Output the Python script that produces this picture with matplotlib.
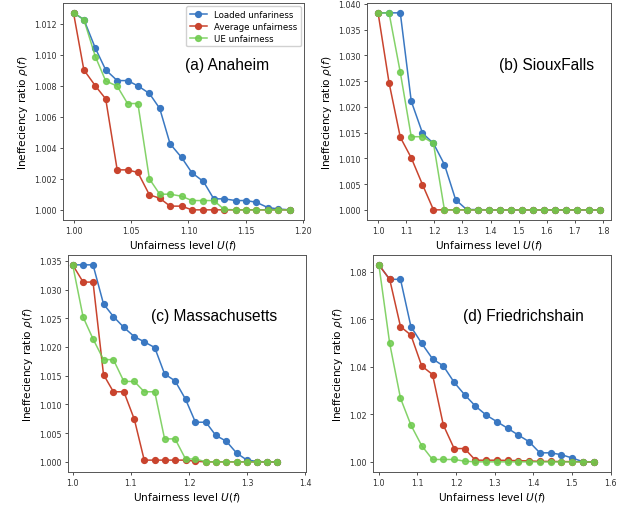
import matplotlib
matplotlib.use("Agg")
import matplotlib.pyplot as plt
from matplotlib.ticker import MultipleLocator, FormatStrFormatter

# ---------------- data ----------------
xa = [1.000, 1.009, 1.019, 1.028, 1.038, 1.047, 1.056, 1.066, 1.075, 1.084, 1.094,
      1.103, 1.113, 1.122, 1.131, 1.141, 1.150, 1.159, 1.169, 1.178, 1.188]
a_loaded = [1.01271, 1.01228, 1.01043, 1.00903, 1.00834, 1.00834, 1.00800, 1.00751,
            1.00654, 1.00426, 1.00338, 1.00239, 1.00183, 1.00071, 1.00071, 1.00060,
            1.00060, 1.00049, 1.00015, 1.00006, 1.00000]
a_average = [1.01271, 1.00903, 1.00800, 1.00716, 1.00258, 1.00258, 1.00241, 1.00097,
             1.00075, 1.00024, 1.00024, 1.0, 1.0, 1.0, 1.0, 1.0, 1.0, 1.0, 1.0, 1.0, 1.0]
a_ue = [1.01271, 1.01228, 1.00989, 1.00832, 1.00798, 1.00686, 1.00686, 1.00200,
        1.00101, 1.00101, 1.00088, 1.00060, 1.00060, 1.00060, 1.00003, 1.0, 1.0,
        1.0, 1.0, 1.0, 1.0]

xb = [1.000, 1.039, 1.079, 1.118, 1.158, 1.197, 1.236, 1.276, 1.315, 1.355, 1.394,
      1.433, 1.473, 1.512, 1.552, 1.591, 1.630, 1.670, 1.709, 1.749, 1.788]
b_loaded = [1.03825, 1.03825, 1.03825, 1.0211, 1.0149, 1.0129, 1.0088, 1.00195,
            1.00006, 1.00006, 1.0, 1.0, 1.0, 1.0, 1.0, 1.0, 1.0, 1.0, 1.0, 1.0, 1.0]
b_average = [1.03825, 1.0247, 1.0141, 1.0101, 1.0049, 1.0, 1.0, 1.0, 1.0, 1.0, 1.0,
             1.0, 1.0, 1.0, 1.0, 1.0, 1.0, 1.0, 1.0, 1.0, 1.0]
b_ue = [1.03825, 1.03825, 1.0267, 1.0142, 1.0142, 1.0129, 1.0, 1.0, 1.0, 1.0, 1.0,
        1.0, 1.0, 1.0, 1.0, 1.0, 1.0, 1.0, 1.0, 1.0, 1.0]

xc = [1.000, 1.018, 1.035, 1.053, 1.070, 1.088, 1.106, 1.123, 1.141, 1.158, 1.176,
      1.194, 1.211, 1.229, 1.246, 1.264, 1.282, 1.299, 1.317, 1.334, 1.352]
c_loaded = [1.0343, 1.0343, 1.0343, 1.0275, 1.0253, 1.0234, 1.0218, 1.0209, 1.0199,
            1.0153, 1.0141, 1.0109, 1.0069, 1.0069, 1.0046, 1.0036, 1.0015, 1.00035,
            1.00006, 1.0, 1.0]
c_average = [1.0343, 1.0313, 1.0313, 1.0152, 1.0122, 1.0122, 1.0074, 1.0003, 1.0003,
             1.0003, 1.0003, 1.0003, 1.0001, 1.0, 1.0, 1.0, 1.0, 1.0, 1.0, 1.0, 1.0]
c_ue = [1.0343, 1.0252, 1.0214, 1.0178, 1.0178, 1.0140, 1.0140, 1.0122, 1.0122,
        1.0040, 1.0040, 1.0005, 1.0005, 1.0, 1.0, 1.0, 1.0, 1.0, 1.0, 1.0, 1.0]

xd = [1.000, 1.028, 1.056, 1.083, 1.111, 1.139, 1.167, 1.195, 1.222, 1.250, 1.278,
      1.306, 1.334, 1.361, 1.389, 1.417, 1.445, 1.473, 1.501, 1.528, 1.556]
d_loaded = [1.0830, 1.0769, 1.0769, 1.0570, 1.0499, 1.0434, 1.0404, 1.0335, 1.0283,
            1.0235, 1.0197, 1.0169, 1.0141, 1.0113, 1.0085, 1.0038, 1.0038, 1.0030,
            1.0016, 1.0001, 1.0]
d_average = [1.0830, 1.0769, 1.0570, 1.0534, 1.0404, 1.0368, 1.0155, 1.0056, 1.0056,
             1.0007, 1.0007, 1.0007, 1.0006, 1.0005, 1.0004, 1.0002, 1.0002, 1.0001,
             1.0001, 1.0, 1.0]
d_ue = [1.0830, 1.0499, 1.0268, 1.0155, 1.0068, 1.0010, 1.0010, 1.0010, 1.0003, 1.0,
        1.0, 1.0, 1.0, 1.0, 1.0, 1.0, 1.0, 1.0, 1.0, 1.0, 1.0]

series_labels = ["Loaded unfariness", "Average unfairness", "UE unfairness"]
panel_titles = ["(a) Anaheim", "(b) SiouxFalls", "(c) Massachusetts", "(d) Friedrichshain"]

# ---------------- style ----------------
W, H = 622, 506
fig = plt.figure(figsize=(W / 100, H / 100), dpi=100)

colors = ["#3a78c2", "#c9442e", "#6fcb4f"]
alphas = [1.0, 1.0, 0.85]


def px_axes(l, t, r, b):
    return fig.add_axes([l / W, (H - b) / H, (r - l) / W, (b - t) / H])


panels = [
    dict(rect=(62.7, 4, 304, 220.7), x=xa, ys=[a_loaded, a_average, a_ue],
         xlim=(0.9906, 1.2005), xstep=0.05, xfmt="%.2f", ystep=0.002, yfmt="%.3f",
         tpos=(0.507, 0.718), legend=True),
    dict(rect=(367, 4, 610.7, 220.7), x=xb, ys=[b_loaded, b_average, b_ue],
         xlim=None, xstep=0.1, xfmt="%.1f", ystep=0.005, yfmt="%.3f",
         tpos=(0.543, 0.718), legend=False),
    dict(rect=(68.3, 256, 305.7, 472.7), x=xc, ys=[c_loaded, c_average, c_ue],
         xlim=(0.9925, 1.4005), xstep=0.1, xfmt="%.1f", ystep=0.005, yfmt="%.3f",
         tpos=(0.347, 0.72), legend=False),
    dict(rect=(372.7, 256, 610.7, 472.7), x=xd, ys=[d_loaded, d_average, d_ue],
         xlim=(0.984, 1.6005), xstep=0.1, xfmt="%.1f", ystep=0.02, yfmt="%.2f",
         tpos=(0.381, 0.72), legend=False),
]

for p, title in zip(panels, panel_titles):
    ax = px_axes(*p["rect"])
    for ys, c, a, lab in zip(p["ys"], colors, alphas, series_labels):
        ax.plot(p["x"], ys, "-o", color=c, alpha=a, lw=1.1, ms=4.2, label=lab)
    if p["xlim"] is not None:
        ax.set_xlim(*p["xlim"])
    ax.xaxis.set_major_locator(MultipleLocator(p["xstep"]))
    ax.xaxis.set_major_formatter(FormatStrFormatter(p["xfmt"]))
    ax.yaxis.set_major_locator(MultipleLocator(p["ystep"]))
    ax.yaxis.set_major_formatter(FormatStrFormatter(p["yfmt"]))
    ax.tick_params(labelsize=5.8, length=2.5, width=0.6, colors="#333333", pad=2)
    for s in ax.spines.values():
        s.set_color("#555555")
        s.set_linewidth(0.7)
    ax.set_xlabel("Unfairness level $U(f)$", fontsize=7.6, labelpad=2)
    ax.set_ylabel(r"Ineffeciency ratio $\rho(f)$", fontsize=7.6, labelpad=3)
    ax.text(p["tpos"][0], p["tpos"][1], title, transform=ax.transAxes,
            fontsize=11.2, family="Liberation Sans", ha="left", va="center")
    if p["legend"]:
        ax.legend(loc="upper right", fontsize=6.2, framealpha=0.9,
                  borderaxespad=0.4, handlelength=2.0, labelspacing=0.35,
                  borderpad=0.4, edgecolor="#cccccc")

fig.savefig("out.png", dpi=100)
